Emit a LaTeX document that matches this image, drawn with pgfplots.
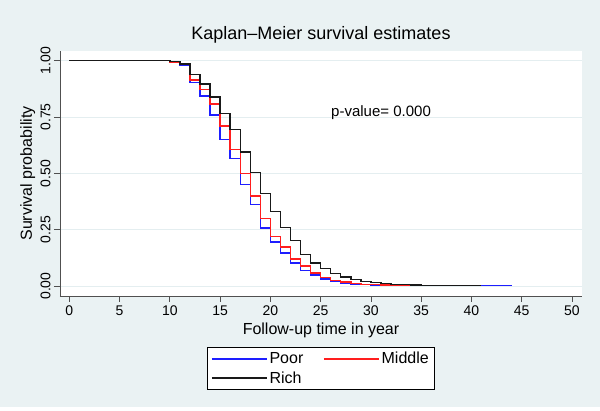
\documentclass[border=0pt]{standalone}
\usepackage{fontspec}
\setmainfont{Liberation Sans}
\usepackage{pgfplots}
\pgfplotsset{compat=1.18}
\definecolor{bgc}{RGB}{234,242,243}
\definecolor{gridc}{RGB}{228,238,240}
\definecolor{axc}{RGB}{80,80,80}
\definecolor{poorc}{RGB}{30,30,255}
\definecolor{midc}{RGB}{255,30,30}
\definecolor{richc}{RGB}{25,25,25}
\begin{document}
\begin{tikzpicture}[x=1pt,y=1pt]
\fill[bgc] (0,4) rectangle (600,411);
\fill[white] (0,0) rectangle (600,4);
\begin{axis}[
  at={(60pt,115pt)}, anchor=south west,
  scale only axis, width=522pt, height=245pt,
  xmin=-0.93, xmax=51, ymin=-0.044, ymax=1.043,
  axis background/.style={fill=white},
  axis x line*=bottom, axis y line*=left,
  axis line style={-, axc, line width=0.8pt},
  xtick={0,5,...,50}, ytick={0,0.25,0.5,0.75,1},
  tick align=outside, major tick length=6pt,
  tick style={axc, line width=0.8pt},
  ymajorgrids, grid style={gridc, line width=0.9pt},
  /pgf/number format/assume math mode=true,
  yticklabel style={/pgf/number format/.cd, fixed, fixed zerofill, precision=2, /tikz/.cd, rotate=90, anchor=south, font=\fontsize{14}{14}\selectfont},
  xticklabel style={font=\fontsize{14}{14}\selectfont},
  xlabel={Follow-up time in year},
  ylabel={Survival probability},
  xlabel style={at={(axis description cs:0.5,-0.139)}, anchor=center, font=\fontsize{16}{16}\selectfont},
  ylabel style={at={(axis description cs:-0.062,0.5)}, anchor=center, font=\fontsize{16}{16}\selectfont},
  title={Kaplan–Meier survival estimates},
  title style={at={(axis description cs:0.5,1.04)}, anchor=center, font=\fontsize{18}{18}\selectfont},
  legend columns=2,
  legend style={at={(axis description cs:0.5,-0.208)}, anchor=north, draw=black, fill=white, line width=0.8pt,
    font=\fontsize{16}{18}\selectfont, inner xsep=4pt, inner ysep=3pt, row sep=2pt,
    /tikz/every even column/.append style={column sep=18pt}},
  legend image code/.code={\draw[#1, line width=1.3pt] (0pt,0pt) -- (55pt,0pt);},
  legend cell align=left,
]
\addplot[const plot, poorc, line width=1.4pt] coordinates {
(0,1) (10,0.994) (11,0.979) (12,0.902) (13,0.843) (14,0.759) (15,0.650) (16,0.565) (17,0.451) (18,0.362) (19,0.258) (20,0.196) (21,0.146) (22,0.102) (23,0.068) (24,0.050) (25,0.032) (26,0.021) (27,0.014) (28,0.010) (29,0.007) (30,0.005) (31,0.004) (32,0.003) (33,0.002) (44,0.002)};
\addlegendentry{Poor}
\addplot[const plot, midc, line width=1.4pt] coordinates {
(0,1) (10,0.995) (11,0.982) (12,0.914) (13,0.873) (14,0.807) (15,0.711) (16,0.605) (17,0.500) (18,0.399) (19,0.301) (20,0.220) (21,0.173) (22,0.121) (23,0.089) (24,0.058) (25,0.038) (26,0.026) (27,0.018) (28,0.012) (29,0.008) (30,0.006) (31,0.004) (32,0.003) (33,0.002) (37,0.002)};
\addlegendentry{Middle}
\addplot[const plot, richc, line width=1.4pt] coordinates {
(0,1) (10,0.996) (11,0.985) (12,0.939) (13,0.897) (14,0.838) (15,0.767) (16,0.694) (17,0.595) (18,0.505) (19,0.412) (20,0.332) (21,0.261) (22,0.202) (23,0.140) (24,0.102) (25,0.077) (26,0.056) (27,0.040) (28,0.029) (29,0.021) (30,0.015) (31,0.011) (32,0.008) (33,0.006) (34,0.004) (35,0.003) (36,0.002) (41,0.002)};
\addlegendentry{Rich}
\node[anchor=west, font=\fontsize{15}{15}\selectfont] at (axis cs:25.7,0.768) {p-value= 0.000};
\end{axis}
\end{tikzpicture}
\end{document}
